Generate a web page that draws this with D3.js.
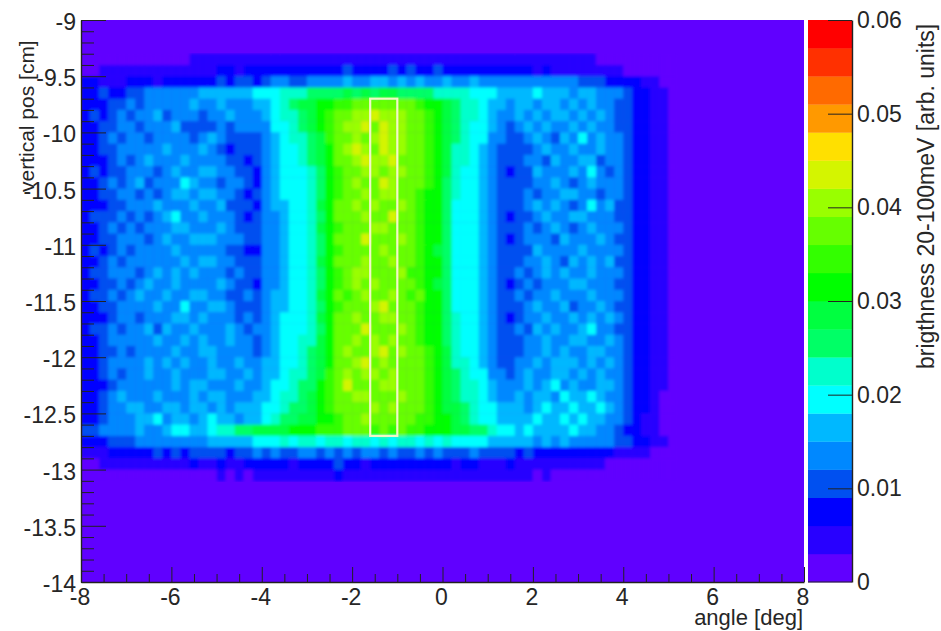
<!DOCTYPE html>
<html>
<head>
<meta charset="utf-8">
<style>
  body { margin: 0; background: #fff; }
  text { font-family: "Liberation Sans", Arial, sans-serif; fill: #262626; }
</style>
</head>
<body>
<div id="chart"></div>
<script src="https://d3js.org/d3.v7.min.js"></script>
<script>
// brightness, in units of 0.001, cells are 0.2 deg x 0.1 cm
// first row starts at -9.3 cm, first column at -8 deg, everything else is background
var firstRow = -9.3
var firstAngle = -8
var cellAngle = 0.2
var cellPos = 0.1

var brightness = [
[1,1,1,1,1,1,1,1,1,1,1,1,4,4,4,4,4,4,4,4,4,4,4,4,4,4,4,4,4,4,4,4,4,4,4,4,4,4,4,4,4,4,4,4,4,4,4,4,4,4,4,4,4,4,4,4,4,1,1,1,1,1,1,1,1,1],
[1,1,4,4,4,4,4,4,4,4,4,4,4,4,4,7,7,4,7,7,7,7,7,7,7,7,7,7,7,10,7,7,7,7,10,7,10,7,7,10,7,7,7,7,7,7,7,7,7,7,4,7,4,4,4,4,4,4,4,4,1,1,1,1,1,1],
[7,7,4,4,4,7,7,7,4,7,7,7,7,7,7,10,7,10,10,7,10,13,13,10,10,13,13,13,13,16,13,13,16,16,13,16,13,16,13,13,16,13,13,16,13,13,13,13,13,13,13,13,13,13,13,10,10,10,7,7,7,7,4,4,1,1],
[7,7,10,7,7,10,10,13,13,13,13,13,13,16,16,16,16,16,16,19,19,19,22,22,22,25,25,25,25,28,25,28,25,28,28,25,25,25,25,22,22,22,22,19,19,19,16,16,16,16,19,16,16,16,13,16,16,13,13,13,10,7,7,4,4,1],
[7,7,7,10,10,13,10,13,13,13,13,13,16,13,14,16,13,13,13,16,16,19,22,25,28,28,31,31,34,34,37,37,37,37,37,37,37,34,31,31,28,25,22,22,19,16,16,13,16,16,13,16,16,13,16,13,16,13,13,10,10,7,7,4,4,1],
[7,10,7,10,13,10,13,13,16,10,13,13,13,10,13,13,16,13,13,13,16,19,22,22,25,28,31,34,37,37,40,40,43,40,40,40,37,37,34,31,28,25,22,22,19,16,13,13,16,13,16,13,16,16,13,16,13,16,13,10,10,7,7,4,4,1],
[7,7,10,10,13,13,10,13,13,13,16,10,10,10,10,13,10,13,13,13,13,19,19,22,25,28,31,34,37,40,40,43,37,43,40,40,37,37,34,31,28,25,22,19,19,16,13,10,13,16,13,16,13,13,16,13,16,13,13,10,10,7,7,4,4,1],
[7,7,10,13,10,13,13,10,13,13,13,13,10,13,16,13,10,10,10,10,13,16,19,22,22,25,28,34,37,37,40,37,40,43,40,40,37,37,34,31,28,25,22,19,19,13,13,10,10,13,16,13,10,16,13,19,13,16,13,13,10,7,7,4,4,1],
[7,7,10,10,13,13,13,13,13,16,13,13,13,16,13,10,7,10,10,10,13,16,19,19,22,25,28,31,37,40,43,40,37,43,40,40,37,37,34,31,28,22,22,19,16,13,10,10,10,10,13,16,13,13,16,13,13,16,13,13,10,7,7,4,4,1],
[7,7,7,10,13,10,13,16,13,13,13,16,13,13,13,13,10,10,7,10,13,16,19,19,22,25,28,31,37,37,40,43,40,40,43,37,37,37,34,31,28,22,22,19,16,13,10,10,10,13,13,10,16,13,13,16,16,10,13,13,10,7,7,4,4,1],
[7,10,7,10,10,13,13,13,10,13,16,13,13,16,16,13,13,10,10,7,13,16,19,19,19,22,25,31,34,37,37,40,40,37,40,40,37,37,34,31,28,22,19,19,16,13,10,7,10,10,16,13,13,13,16,13,19,13,10,13,10,7,7,4,4,1],
[7,7,10,13,10,13,16,10,13,13,13,19,16,13,13,10,13,13,10,7,13,16,19,19,19,22,25,31,34,37,40,37,37,43,40,37,37,37,34,31,25,22,19,19,16,13,10,10,10,10,13,13,16,13,10,13,16,13,13,13,10,7,7,4,4,1],
[7,7,10,10,13,13,10,13,10,13,16,16,13,16,16,13,13,10,7,10,13,16,19,19,19,22,25,31,34,37,37,40,37,40,40,37,37,34,31,31,25,22,19,19,16,13,10,10,10,13,10,13,13,16,16,13,13,10,13,13,10,7,7,4,4,1],
[7,7,7,10,10,13,13,13,16,13,13,13,16,13,13,16,10,10,10,7,13,16,16,19,19,22,28,31,37,37,40,37,40,37,37,40,37,34,31,31,25,19,19,19,16,13,10,10,10,13,16,13,16,13,10,13,19,13,16,10,10,7,7,4,4,1],
[7,10,10,10,13,10,13,10,13,16,19,13,13,16,13,13,13,10,7,10,13,13,16,19,19,22,25,31,37,37,37,40,37,37,43,37,37,34,31,31,25,19,19,19,16,13,10,7,10,10,13,16,13,13,16,16,13,13,13,10,10,7,7,4,4,1],
[7,7,10,13,10,13,10,13,13,13,16,16,13,13,13,16,13,10,10,10,13,13,16,19,19,22,28,31,34,37,37,37,40,40,37,37,37,34,31,31,25,19,19,19,16,13,10,10,10,13,10,13,16,13,10,13,16,13,13,13,10,7,7,4,4,1],
[7,7,10,10,13,13,13,10,13,16,13,13,16,16,16,13,13,13,10,10,13,13,16,19,19,22,25,31,37,37,37,43,37,37,37,40,37,34,31,31,25,19,19,19,16,13,10,7,10,13,13,13,10,16,13,13,13,16,13,10,10,7,7,4,4,1],
[7,10,7,10,13,10,13,13,13,13,16,13,13,13,13,13,10,10,7,7,13,13,16,19,19,22,25,31,34,37,37,37,37,40,37,37,37,34,31,28,25,19,19,19,16,13,10,10,10,10,16,13,13,13,13,16,13,13,13,13,10,7,7,4,4,1],
[7,7,10,13,10,13,13,13,13,13,13,16,13,16,16,13,13,10,10,10,13,13,16,19,19,22,28,31,37,37,37,40,37,37,40,37,37,34,31,31,25,19,19,19,16,13,10,10,10,13,13,16,13,10,16,13,16,13,16,10,10,7,7,4,4,1],
[7,10,10,13,13,13,10,13,16,13,16,13,16,13,13,13,10,13,10,10,13,13,16,19,19,22,25,31,34,37,40,40,37,37,37,40,34,34,31,31,25,19,19,19,16,13,10,10,13,10,13,16,13,16,13,13,16,13,13,13,10,7,7,4,4,1],
[7,7,10,10,13,10,13,16,13,13,16,13,13,13,13,16,13,10,10,7,13,13,16,19,19,22,25,31,34,37,40,37,40,37,37,37,37,34,31,28,25,19,19,19,16,13,10,7,10,13,10,13,13,13,16,16,13,13,13,10,10,7,7,4,4,1],
[7,10,10,13,10,13,16,13,13,16,13,13,16,16,13,13,10,10,13,10,13,16,16,19,19,22,28,31,37,34,37,40,37,37,40,37,34,37,31,31,25,19,19,19,16,13,10,10,13,10,13,13,16,13,13,13,16,13,13,13,10,7,7,4,4,1],
[7,7,10,10,13,13,13,13,16,13,13,19,13,13,16,16,13,10,10,10,13,16,16,19,19,22,25,31,34,37,37,37,40,43,37,37,37,34,31,31,25,19,19,19,16,13,10,10,10,13,16,13,13,16,10,13,13,16,13,10,10,7,7,4,4,1],
[7,7,7,10,13,13,10,13,13,13,16,16,13,16,13,13,13,10,13,10,13,16,19,19,19,22,28,31,37,37,40,37,37,40,40,37,37,34,31,31,25,22,19,19,16,13,10,7,10,13,13,16,13,13,16,13,16,13,16,13,10,7,7,4,4,1],
[7,10,10,13,10,13,13,16,10,16,13,13,16,13,13,13,16,13,10,13,13,16,19,19,19,22,25,31,37,37,37,43,37,37,37,40,37,34,31,31,25,22,19,19,16,13,10,10,13,10,16,13,16,13,13,16,19,13,13,10,10,7,7,4,4,1],
[7,7,10,13,13,13,13,13,16,13,13,16,13,16,13,13,16,13,13,10,13,16,19,19,22,22,28,31,37,37,40,37,40,37,40,37,37,34,31,31,25,22,19,19,16,13,10,10,10,13,13,16,13,13,16,16,13,13,16,13,10,7,7,4,4,1],
[7,7,10,10,13,10,13,13,13,13,16,13,13,16,16,13,13,13,13,10,13,16,19,19,22,25,28,31,37,40,37,37,40,43,37,40,37,37,34,31,28,22,19,19,16,13,10,10,10,13,13,16,13,16,13,13,16,16,13,13,10,7,7,4,4,1],
[7,7,10,13,13,13,13,16,13,16,13,16,13,13,16,13,13,16,13,13,16,16,19,19,22,25,28,31,37,37,40,43,37,40,37,37,37,37,34,31,28,22,22,19,16,13,10,10,13,13,16,13,16,16,16,13,16,13,16,13,10,7,7,4,4,1],
[7,7,10,13,10,13,13,16,13,13,16,13,13,13,16,16,13,13,16,13,16,16,19,22,22,25,28,34,37,40,37,40,40,37,40,37,37,37,34,31,28,25,22,19,19,13,13,10,13,16,13,13,16,16,13,16,13,16,13,13,10,7,7,4,4,1],
[7,7,7,10,13,13,13,13,13,13,16,13,16,16,13,13,13,16,13,13,16,19,19,22,25,25,31,34,37,43,37,37,37,40,40,37,37,37,34,31,28,25,22,22,19,16,13,13,13,16,13,16,19,13,16,13,13,16,16,13,10,7,7,4,4,1],
[7,7,10,13,16,13,13,13,16,13,13,13,16,13,16,16,13,13,13,16,16,19,22,22,25,28,31,34,37,37,40,40,37,37,37,40,37,37,34,31,28,25,22,22,19,16,13,13,16,13,16,16,13,19,16,16,19,16,13,13,10,7,7,4,1,1],
[7,7,10,13,13,16,16,13,13,16,16,13,16,16,13,16,13,16,16,16,19,19,22,25,25,28,31,34,37,37,37,37,40,37,40,37,37,37,34,31,28,28,25,22,19,19,16,16,16,13,16,19,16,16,19,16,16,19,16,13,10,7,7,4,1,1],
[7,7,10,13,13,13,16,16,19,13,16,16,13,16,19,16,16,13,16,16,19,22,25,25,28,28,31,31,34,37,37,40,37,37,37,37,37,34,34,31,31,28,25,22,19,19,16,16,16,16,19,16,16,19,16,19,16,16,13,13,10,7,4,4,1,1],
[10,10,13,13,13,13,16,13,13,16,19,19,16,16,19,22,22,25,25,28,28,28,28,31,31,31,34,34,34,37,37,37,34,37,34,37,34,34,31,31,31,28,28,25,25,22,19,19,16,19,16,16,16,16,19,16,16,13,13,10,7,7,4,4,1,1],
[7,7,7,10,10,10,13,13,13,13,13,13,13,13,16,16,16,16,16,19,19,19,22,19,22,22,19,22,22,19,22,22,19,22,19,22,22,19,22,19,22,19,19,19,19,16,16,16,16,16,13,16,13,16,13,13,13,13,13,10,10,7,7,4,4,1],
[4,4,4,7,7,7,7,7,10,7,10,7,10,10,10,10,7,10,10,13,10,13,10,10,13,13,10,13,10,13,10,13,13,10,13,10,10,13,10,13,10,10,10,13,10,10,10,10,7,10,7,7,7,7,7,7,7,7,7,4,4,4,4,1,1,1],
[1,1,4,4,4,4,4,4,4,4,4,4,7,4,4,7,4,4,7,7,7,7,7,4,7,7,7,7,10,7,7,4,7,7,7,7,7,7,7,7,7,4,7,7,4,4,4,7,4,4,4,4,4,4,4,4,4,4,1,1,1,1,1,1,1,1],
[1,1,1,1,1,1,1,1,1,1,1,1,1,1,1,4,1,4,1,4,4,4,4,4,4,4,4,4,7,4,4,4,4,4,4,4,4,4,4,4,4,4,4,4,4,4,4,4,4,4,1,4,1,1,1,1,1,1,1,1,1,1,1,1,1,1]
]

var bandColors = ["#6000ff","#2800ff","#0000ff","#0050f0","#0088ff","#00b8ff","#00ffff","#00ffcc","#00ff66","#00ff40",
                  "#00ff00","#33ff00","#66ff00","#99ff00","#d4f500","#ffe000","#ff9900","#ff6a00","#ff3000","#ff0000"]
var xTicks = [-8,-6,-4,-2,0,2,4,6,8]
var yTicks = [-9,-9.5,-10,-10.5,-11,-11.5,-12,-12.5,-13,-13.5,-14]
var yTickLabels = ["-9","-9.5","-10","-10.5","-11","-11.5","-12","-12.5","-13","-13.5","-14"]
var zTicks = [0,0.01,0.02,0.03,0.04,0.05,0.06]
var boxAngle = [-1.6,-1]
var boxPos = [-9.7,-12.7]

var width = 941, height = 631

var x = d3.scaleLinear().domain([-8,8]).range([81,804])
var y = d3.scaleLinear().domain([-9,-14]).range([20,582])
var z = d3.scaleLinear().domain([0,0.06]).range([582,20])
var color = d3.scaleQuantize().domain([0,60]).range(bandColors)

var svg = d3.select("#chart").append("svg")
    .attr("width", width)
    .attr("height", height)
    .style("display", "block")

// softens the cell edges, the source is a blurry scan
svg.append("filter").attr("id","soft")
    .attr("x",0).attr("y",0).attr("width",1).attr("height",1)
  .append("feGaussianBlur").attr("stdDeviation",1.6)

svg.append("rect")
    .attr("x", x(-8)).attr("y", y(-9))
    .attr("width", x(8)-x(-8)).attr("height", y(-14)-y(-9))
    .attr("fill", bandColors[0])

var cells = []
brightness.forEach(function(row, r) {
  row.forEach(function(v, c) {
    cells.push({angle: firstAngle + c*cellAngle, pos: firstRow - r*cellPos, v: v})
  })
})

svg.append("g").attr("filter","url(#soft)")
  .selectAll("rect")
  .data(cells)
  .enter().append("rect")
    .attr("x", function(d){ return x(d.angle) })
    .attr("y", function(d){ return y(d.pos) })
    .attr("width", x(cellAngle)-x(0)+0.4)
    .attr("height", y(-cellPos)-y(0)+0.4)
    .attr("fill", function(d){ return color(d.v) })

// integration window
svg.append("rect")
    .attr("x", x(boxAngle[0])).attr("y", y(boxPos[0]))
    .attr("width", x(boxAngle[1])-x(boxAngle[0]))
    .attr("height", y(boxPos[1])-y(boxPos[0]))
    .attr("fill","none").attr("stroke","#f2f7c8").attr("stroke-width",2.2)

// colour bar
svg.append("g").selectAll("rect")
  .data(bandColors)
  .enter().append("rect")
    .attr("x", 808)
    .attr("width", 44)
    .attr("y", function(d,i){ return z((i+1)*0.003) })
    .attr("height", z(0)-z(0.003)+0.3)
    .attr("fill", function(d){ return d })

// x axis, ROOT style ticks pointing inwards
var xAxis = svg.append("g").attr("transform","translate(0,582)")
    .call(d3.axisBottom(x).tickValues(d3.range(-8,8.01,0.5)).tickSize(-8).tickSizeOuter(0).tickFormat(""))
xAxis.selectAll(".tick line").attr("y2", function(d){ return d%2==0 ? -15 : -8 }).attr("stroke","#222")
xAxis.select(".domain").attr("stroke","#222").attr("stroke-width",1.4)
svg.append("g").selectAll("text")
  .data(xTicks)
  .enter().append("text")
    .attr("x", function(d){ return x(d)-1 })
    .attr("y", 605)
    .attr("text-anchor","middle")
    .attr("font-size",23)
    .text(function(d){ return d })

// y axis
var yAxis = svg.append("g").attr("transform","translate(81,0)")
    .call(d3.axisRight(y).tickValues(d3.range(0,51).map(function(i){ return -9-i*0.1 })).tickSize(13).tickSizeOuter(0).tickFormat(""))
yAxis.selectAll(".tick line").attr("x2", function(d,i){ return i%5==0 ? 25 : 13 }).attr("stroke","#222")
yAxis.select(".domain").attr("stroke","#222").attr("stroke-width",1.4)
svg.append("g").selectAll("text")
  .data(yTicks)
  .enter().append("text")
    .attr("x", 76)
    .attr("y", function(d){ return y(d)+10 })
    .attr("text-anchor","end")
    .attr("font-size",23)
    .text(function(d,i){ return yTickLabels[i] })

// colour bar axis
var zAxis = svg.append("g").attr("transform","translate(852,0)")
    .call(d3.axisLeft(z).tickValues(zTicks.slice(1)).tickSize(24).tickSizeOuter(0).tickFormat(""))
zAxis.selectAll(".tick line").attr("stroke","#222")
zAxis.select(".domain").attr("stroke","#222").attr("stroke-width",1.4)
svg.append("line")
    .attr("x1",808).attr("x2",852)
    .attr("y1",z(0)).attr("y2",z(0))
    .attr("stroke","#222").attr("stroke-width",1.2)
svg.append("g").selectAll("text")
  .data(zTicks)
  .enter().append("text")
    .attr("x", 857)
    .attr("y", function(d){ return z(d)+8 })
    .attr("font-size",23)
    .text(function(d){ return d })

svg.append("text")
    .attr("transform","translate(34,192) rotate(-90)")
    .attr("font-size",21)
    .text("vertical pos [cm]")
svg.append("text")
    .attr("x",803).attr("y",625)
    .attr("text-anchor","end")
    .attr("font-size",22)
    .text("angle [deg]")
svg.append("text")
    .attr("transform","translate(934,369) rotate(-90)")
    .attr("font-size",23)
    .text("brigthness 20-100meV [arb. units]")
</script>
</body>
</html>
